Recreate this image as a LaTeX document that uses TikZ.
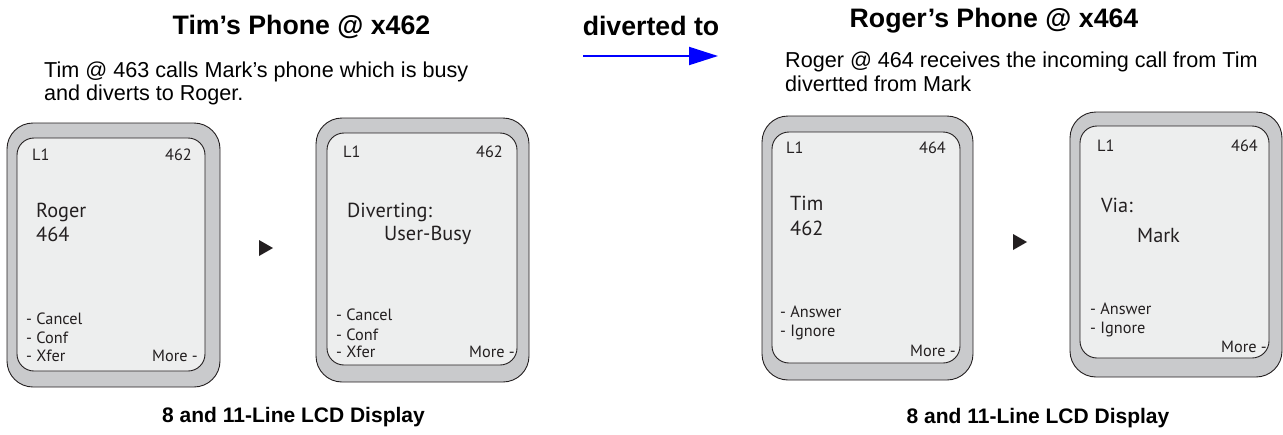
\documentclass[tikz,border=0pt]{standalone}
\usepackage{fontspec}
\setmainfont{Liberation Sans}
\newfontfamily\lcdfont{PT Sans}
\usetikzlibrary{arrows.meta}
\definecolor{framegray}{HTML}{C9CACC}
\definecolor{screengray}{HTML}{EDEEEE}
\definecolor{ink}{HTML}{231F20}
\definecolor{arrowblue}{HTML}{0000FF}
\tikzset{
  frame/.style={draw=ink, line width=0.9pt, fill=framegray, rounded corners=26pt},
  screen/.style={draw=ink, line width=0.9pt, fill=screengray, rounded corners=17pt},
  small/.style={inner sep=0pt, text=ink, font=\lcdfont\fontsize{16.3}{18}\selectfont},
  big/.style={inner sep=0pt, text=ink, font=\lcdfont\fontsize{20.3}{23}\selectfont},
  title/.style={inner sep=0pt, anchor=base, font=\bfseries\fontsize{26.7}{30}\selectfont},
  subtitle/.style={inner sep=0pt, anchor=base west, font=\fontsize{21.6}{24}\selectfont},
  caption/.style={inner sep=0pt, anchor=base, font=\bfseries\fontsize{21}{24}\selectfont},
  playmark/.style={fill=ink},
}
\begin{document}
\begin{tikzpicture}[x=1pt,y=-1pt]
\useasboundingbox (0,0) rectangle (1283,434);
% titles
\node[title] (t1) at (301.5,34) {Tim’s Phone @ x462};
\node[title] (t2) at (651,35) {diverted to};
\node[title] (t3) at (994,27) {Roger’s Phone @ x464};
\node[subtitle] (s1a) at (44,77) {Tim @ 463 calls Mark’s phone which is busy};
\node[subtitle] (s1b) at (44,100) {and diverts to Roger.};
\node[subtitle] (s2a) at (785,67) {Roger @ 464 receives the incoming call from Tim};
\node[subtitle] (s2b) at (785,91) {divertted from Mark};
% arrow
\coordinate (as) at (583,56);
\coordinate (ae) at (718,56);
\draw[arrowblue, line width=2pt, -{Triangle[length=29pt,width=18pt]}] (as) -- (ae);
% phone 1
\draw[frame] (7,123) rectangle (220,387);
\draw[screen] (17,138) rectangle (205,371);
\node[small, anchor=base west] (p1l) at (32,160) {L1};
\node[small, anchor=base east] (p1n) at (192,160) {462};
\node[big, anchor=base west] (p1a) at (36,217) {Roger};
\node[big, anchor=base west] (p1b) at (36,241) {464};
\node[small, anchor=base west] (p1c) at (26,324) {- Cancel};
\node[small, anchor=base west] (p1d) at (26,343) {- Conf};
\node[small, anchor=base west] (p1e) at (26,361) {- Xfer};
\node[small, anchor=base east] (p1m) at (198,361) {More -};
% triangle 1
\fill[playmark] (259,240) -- (273,248) -- (259,256) -- cycle;
% phone 2
\draw[frame] (316,118) rectangle (529,382);
\draw[screen] (327,133) rectangle (517,365);
\node[small, anchor=base west] (p2l) at (343,157) {L1};
\node[small, anchor=base east] (p2n) at (503,157) {462};
\node[big, anchor=base west] (p2a) at (347,217) {Diverting:};
\node[big, anchor=base west] (p2b) at (384,240) {User-Busy};
\node[small, anchor=base west] (p2c) at (336,320) {- Cancel};
\node[small, anchor=base west] (p2d) at (336,340) {- Conf};
\node[small, anchor=base west] (p2e) at (336,357) {- Xfer};
\node[small, anchor=base east] (p2m) at (515,357) {More -};
% phone 3
\draw[frame] (762,116) rectangle (973,380);
\draw[screen] (772,132) rectangle (960,363);
\node[small, anchor=base west] (p3l) at (786,153) {L1};
\node[small, anchor=base east] (p3n) at (946,153) {464};
\node[big, anchor=base west] (p3a) at (790,210) {Tim};
\node[big, anchor=base west] (p3b) at (790,235) {462};
\node[small, anchor=base west] (p3c) at (780,317) {- Answer};
\node[small, anchor=base west] (p3d) at (780,336) {- Ignore};
\node[small, anchor=base east] (p3m) at (956,356) {More -};
% triangle 2
\fill[playmark] (1013,234) -- (1027,242) -- (1013,250) -- cycle;
% phone 4
\draw[frame] (1070,112) rectangle (1282,377);
\draw[screen] (1080,126) rectangle (1269,358);
\node[small, anchor=base west] (p4l) at (1097,151) {L1};
\node[small, anchor=base east] (p4n) at (1258,151) {464};
\node[big, anchor=base west] (p4a) at (1101,212) {Via:};
\node[big, anchor=base west] (p4b) at (1137,242) {Mark};
\node[small, anchor=base west] (p4c) at (1090,314) {- Answer};
\node[small, anchor=base west] (p4d) at (1090,333) {- Ignore};
\node[small, anchor=base east] (p4m) at (1267,352) {More -};
% captions
\node[caption] (c1) at (293.5,422) {8 and 11-Line LCD Display};
\node[caption] (c2) at (1038,423) {8 and 11-Line LCD Display};
\end{tikzpicture}
\end{document}
